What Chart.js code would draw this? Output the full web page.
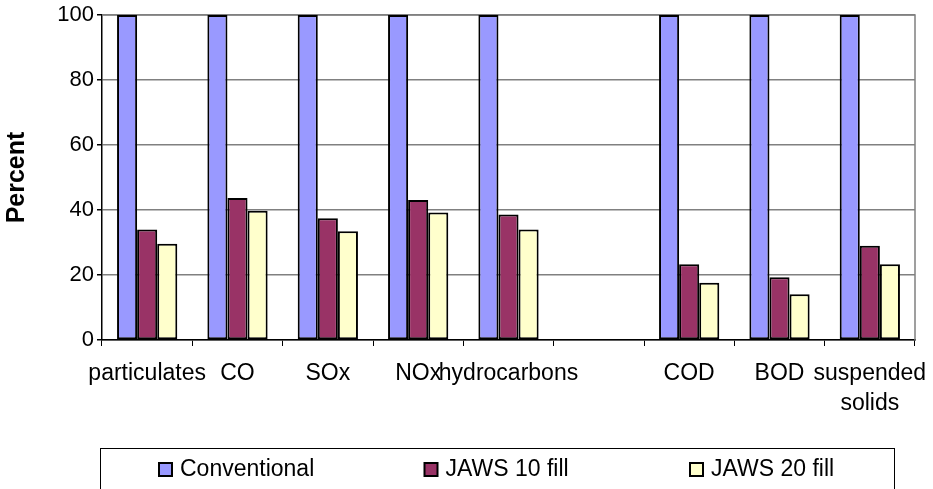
<!DOCTYPE html>
<html>
<head>
<meta charset="utf-8">
<script src="https://cdn.jsdelivr.net/npm/chart.js@4/dist/chart.umd.min.js"></script>
<style>
  html, body { margin: 0; padding: 0; background: #fff; }
  #wrap { width: 933px; height: 489px; }
</style>
</head>
<body>
<div id="wrap"><canvas id="emissionsChart" width="933" height="489"></canvas></div>
<script>
// ======================
// Dados
// ======================
const categories = ['particulates', 'CO', 'SOx', 'NOx', 'hydrocarbons', '', 'COD', 'BOD', ['suspended', 'solids']];
const conventional = [100, 100, 100, 100, 100, null, 100, 100, 100];
const jaws10 = [34.0, 43.7, 37.5, 43.1, 38.6, null, 23.3, 19.3, 29.0];
const jaws20 = [29.6, 39.8, 33.5, 39.2, 34.0, null, 17.6, 14.1, 23.3];
const yTicks = [0, 20, 40, 60, 80, 100];

const FONT = "'Liberation Sans', Arial, sans-serif";

// ======================
// Legenda em caixa (estilo Excel)
// ======================
const boxLegend = {
  id: 'boxLegend',
  afterDraw(chart) {
    const ctx = chart.ctx;
    ctx.save();
    ctx.strokeStyle = '#000';
    ctx.lineWidth = 1;
    ctx.strokeRect(100.5, 448.5, 794, 60);
    ctx.font = '23px ' + FONT;
    ctx.textBaseline = 'middle';
    chart.data.datasets.forEach((ds, i) => {
      const x = 159 + i * 265.5;
      ctx.fillStyle = ds.backgroundColor;
      ctx.fillRect(x, 463, 13, 13);
      ctx.strokeStyle = '#000';
      ctx.lineWidth = 2;
      ctx.strokeRect(x, 463, 13, 13);
      ctx.fillStyle = '#000';
      ctx.fillText(ds.label, x + 21, 469.5);
    });
    ctx.restore();
  }
};

// borda cinza em cima e à direita da área do gráfico
const plotFrame = {
  id: 'plotFrame',
  beforeDatasetsDraw(chart) {
    const { ctx, chartArea: a } = chart;
    ctx.save();
    ctx.strokeStyle = '#808080';
    ctx.lineWidth = 1.5;
    ctx.beginPath();
    ctx.moveTo(a.left, a.top);
    ctx.lineTo(a.right, a.top);
    ctx.lineTo(a.right, a.bottom);
    ctx.stroke();
    ctx.restore();
  }
};

function makeSet(label, data, color) {
  return {
    label: label,
    data: data,
    backgroundColor: color,
    borderColor: '#000',
    borderWidth: 2,
    borderSkipped: false,
    categoryPercentage: 0.667,
    barPercentage: 1.0
  };
}

const ctx = document.getElementById('emissionsChart').getContext('2d');
const chart = new Chart(ctx, {
  type: 'bar',
  data: {
    labels: categories,
    datasets: [
      makeSet('Conventional', conventional, '#9999FF'),
      makeSet('JAWS 10 fill', jaws10, '#993366'),
      makeSet('JAWS 20 fill', jaws20, '#FFFFCC')
    ]
  },
  options: {
    responsive: false,
    animation: false,
    layout: { padding: { top: 15, right: 18, left: 0, bottom: 0 } },
    plugins: {
      legend: { display: false },
      tooltip: { enabled: false }
    },
    scales: {
      x: {
        grid: { drawOnChartArea: false, tickLength: 6, tickColor: '#000', offset: true },
        border: { color: '#000', width: 1.5 },
        ticks: {
          color: '#000',
          autoSkip: false,
          maxRotation: 0,
          padding: 13,
          font: { family: FONT, size: 23, lineHeight: 1.3 }
        },
        afterFit(scale) {
          scale.height = 149;
          scale.paddingLeft = 0;
          scale.paddingRight = 0;
        }
      },
      y: {
        min: 0,
        max: 100,
        afterBuildTicks(scale) { scale.ticks = yTicks.map(v => ({ value: v })); },
        grid: { color: '#808080', lineWidth: 1.5, tickLength: 5, tickColor: '#000' },
        border: { color: '#000', width: 1.5 },
        ticks: {
          color: '#000',
          padding: 3,
          font: { family: FONT, size: 22 }
        },
        title: {
          display: true,
          text: 'Percent',
          color: '#000',
          padding: { top: 2, bottom: 0 },
          font: { family: FONT, size: 25, weight: 'bold' }
        },
        afterFit(scale) {
          scale.width = 102;
          scale.paddingTop = 0;
          scale.paddingBottom = 0;
        }
      }
    }
  },
  plugins: [plotFrame, boxLegend]
});
</script>
</body>
</html>
